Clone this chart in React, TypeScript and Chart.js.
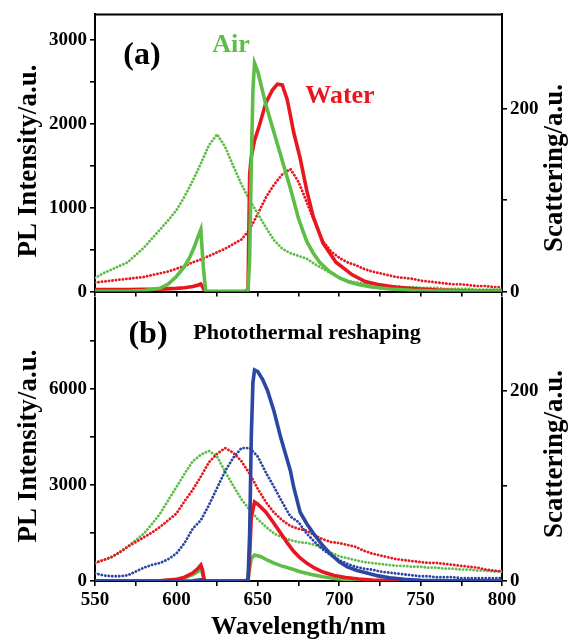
import React, { useEffect, useRef } from "react";
import { Chart, registerables } from "chart.js";
Chart.register(...registerables);

const GREEN = "#5dbd46";
const RED = "#e8161e";
const BLUE = "#2b47a3";
const FONT = "'Liberation Serif', 'Times New Roman', serif";

// ---- Panel (a): PL spectra (left axis) ----
const airPL_a_wl = [550, 570, 580, 590, 595, 600, 605, 608, 611, 613, 615, 616.5, 618, 620, 640, 644, 645, 646, 647, 648, 650, 655, 660, 665, 670, 675, 680, 684, 688, 694, 700, 706, 713, 720, 731, 745, 760, 780, 800];
const airPL_a = [5, 5, 12, 40, 90, 180, 300, 400, 530, 640, 740, 300, 0, 0, 0, 0, 400, 1500, 2400, 2720, 2620, 2220, 1890, 1560, 1230, 870, 600, 460, 350, 240, 165, 115, 80, 55, 30, 15, 8, 3, 0];
const waterPL_a_wl = [550, 570, 590, 600, 605, 610, 613, 615, 616, 617, 618, 620, 642, 644, 645, 646, 648, 651, 655, 659, 662, 665, 668, 670, 672, 676, 680, 684, 690, 698, 708, 716, 725, 735, 745, 760, 780, 800];
const waterPL_a = [25, 25, 30, 38, 45, 60, 75, 90, 60, 20, 5, 0, 0, 20, 1400, 1600, 1800, 1980, 2250, 2400, 2470, 2460, 2290, 2100, 1900, 1590, 1210, 895, 580, 350, 200, 120, 80, 50, 35, 18, 8, 3];

// ---- Scattering wavelengths (both panels) ----
const scatWl = [550, 555, 560, 565, 570, 575, 580, 585, 590, 595, 600, 605, 610, 615, 620, 625, 630, 635, 640, 645, 650, 655, 660, 665, 670, 675, 680, 685, 690, 695, 700, 705, 710, 715, 720, 725, 730, 735, 740, 745, 750, 755, 760, 765, 770, 775, 780, 785, 790, 795, 800];
const airScat_a = [15, 20, 24, 28, 32, 40, 48, 58, 68, 78, 89, 104, 121, 140, 160, 172, 158, 137, 117, 100, 85, 70, 56, 47, 42, 39, 36, 30, 25, 20, 15, 12, 10, 9, 8, 7, 6, 6, 5, 5, 4, 4, 4, 3, 3, 3, 3, 2, 2, 2, 2];
const waterScat_a = [10, 11, 12, 13, 14, 15, 16, 18, 20, 22, 25, 28, 32, 35, 39, 43, 47, 52, 57, 68, 85, 103, 117, 128, 134, 120, 98, 76, 55, 44, 37, 32, 29, 25, 22, 20, 18, 16, 15, 14, 12, 11, 10, 9, 8, 8, 7, 6, 6, 5, 5];

// ---- Panel (b): PL spectra (left axis) ----
const bluePL_b_wl = [550, 600, 610, 615, 617, 620, 640, 644, 645, 646, 647, 648, 650, 653, 656, 660, 664, 668, 670, 672, 676, 680, 684, 690, 694, 700, 705, 711, 717, 724, 731, 740, 750, 770, 800];
const bluePL_b = [0, 0, 10, 40, 5, 0, 0, 20, 1500, 4500, 6200, 6600, 6550, 6300, 5950, 5300, 4500, 3800, 3450, 2950, 2150, 1800, 1500, 1100, 875, 600, 440, 330, 250, 160, 100, 50, 20, 5, 0];
const redPL_b_wl = [550, 590, 600, 605, 610, 613, 615, 616, 617, 618, 643, 644, 645, 646, 648, 650, 655, 660, 664, 668, 672, 676, 680, 685, 690, 697, 704, 712, 720, 735, 800];
const redPL_b = [0, 10, 50, 120, 250, 380, 500, 350, 50, 0, 0, 30, 800, 2000, 2470, 2400, 2150, 1800, 1500, 1200, 930, 720, 560, 400, 280, 170, 110, 60, 30, 10, 0];
const greenPL_b_wl = [550, 590, 600, 605, 610, 613, 615, 616, 617, 618, 643, 644, 645, 646, 648, 652, 656, 660, 664, 668, 672, 676, 683, 690, 697, 704, 712, 720, 735, 800];
const greenPL_b = [0, 5, 40, 100, 200, 290, 380, 250, 40, 0, 0, 20, 400, 700, 810, 760, 650, 560, 480, 420, 360, 290, 200, 130, 80, 50, 25, 12, 5, 0];

// ---- Panel (b): scattering (right axis) ----
const greenScat_b = [19, 22, 25, 30, 36, 43, 50, 60, 71, 85, 99, 113, 126, 133, 137, 131, 115, 100, 86, 75, 65, 57, 50, 46, 43, 41, 40, 38, 35, 30, 26, 24, 22, 20, 19, 18, 17, 16, 16, 15, 15, 14, 14, 13, 13, 12, 12, 11, 11, 10, 10];
const redScat_b = [19, 22, 25, 30, 36, 41, 46, 51, 57, 64, 71, 84, 96, 110, 125, 134, 140, 135, 126, 113, 97, 83, 72, 64, 58, 55, 53, 48, 44, 41, 40, 38, 36, 32, 29, 27, 25, 23, 22, 21, 20, 19, 19, 18, 17, 16, 15, 14, 12, 11, 10];
const blueScat_b = [8, 6, 5, 5, 6, 10, 14, 17, 19, 23, 29, 40, 55, 64, 80, 98, 116, 130, 140, 140, 131, 114, 99, 83, 68, 62, 50, 41, 33, 27, 22, 18, 15, 13, 12, 10, 9, 8, 7, 6, 5, 5, 4, 4, 4, 3, 3, 3, 3, 3, 3];

// ---- Axis ticks ----
const xMin = 550, xMax = 800, xStep = 25, xLabelStep = 50;
const yA = { max: 3300, ticks: [0, 500, 1000, 1500, 2000, 2500, 3000], label: 1000 };
const yAR = { max: 303, ticks: [0, 100, 200], label: 200 };
const yB = { max: 8850, ticks: [0, 1500, 3000, 4500, 6000, 7500], label: 3000 };
const yBR = { max: 298, ticks: [0, 100, 200], label: 200 };

const pts = (xs: number[], ys: number[]) => xs.map((x, i) => ({ x, y: ys[i] }));

const lineDs = (data: any, color: string) => ({
  data, borderColor: color, backgroundColor: color, borderWidth: 3.6,
  pointRadius: 0, tension: 0, yAxisID: "yL", fill: false,
});
const dotDs = (data: any, color: string) => ({
  data, borderColor: color, backgroundColor: color, borderWidth: 2.8,
  borderDash: [0.1, 3.4], borderCapStyle: "round", pointRadius: 0,
  tension: 0, yAxisID: "yR", fill: false,
});

const tickFont = { family: FONT, size: 19, weight: "bold" as const };

function yScale(cfg: { max: number; ticks: number[]; label: number }, pos: "left" | "right", width: number) {
  return {
    type: "linear", position: pos, min: 0, max: cfg.max,
    afterFit: (s: any) => { s.width = width; },
    afterBuildTicks: (s: any) => { s.ticks = cfg.ticks.map((v) => ({ value: v })); },
    ticks: {
      autoSkip: false, color: "#000", font: tickFont, padding: 3,
      callback: (v: any) => (v % cfg.label === 0 ? String(v) : ""),
    },
    grid: { drawOnChartArea: false, tickLength: 5, lineWidth: 1.6, tickColor: "#000" },
    border: { display: true, color: "#000", width: 2 },
    title: { display: false },
  };
}

function xScale(showLabels: boolean, height: number) {
  return {
    type: "linear", position: "bottom", min: xMin, max: xMax,
    afterFit: (s: any) => { s.height = height; },
    ticks: {
      stepSize: xStep, autoSkip: false, maxRotation: 0, color: "#000", font: tickFont, padding: 3,
      callback: (v: any) => (showLabels && v % xLabelStep === 0 ? String(v) : ""),
    },
    grid: { drawOnChartArea: false, tickLength: 5, lineWidth: 1.6, tickColor: "#000" },
    border: { display: true, color: "#000", width: 2 },
    title: showLabels
      ? { display: true, text: "Wavelength/nm", color: "#000", font: { family: FONT, size: 26, weight: "bold", lineHeight: 1 }, padding: { top: 0, bottom: 1 } }
      : { display: false },
  };
}

type Txt = { text: string; x: number; y: number; size: number; color: string; rot?: number };
const textPlugin = (texts: Txt[], topBorder: boolean) => ({
  id: "texts",
  afterDraw(chart: any) {
    const ctx = chart.ctx;
    const a = chart.chartArea;
    ctx.save();
    if (topBorder) {
      ctx.strokeStyle = "#000";
      ctx.lineWidth = 2;
      ctx.beginPath();
      ctx.moveTo(a.left - 1, a.top);
      ctx.lineTo(a.right + 1, a.top);
      ctx.stroke();
    }
    ctx.textAlign = "center";
    ctx.textBaseline = "middle";
    for (const t of texts) {
      ctx.save();
      ctx.fillStyle = t.color;
      ctx.font = `bold ${t.size}px ${FONT}`;
      ctx.translate(t.x, t.y);
      if (t.rot) ctx.rotate(t.rot);
      ctx.fillText(t.text, 0, 0);
      ctx.restore();
    }
    ctx.restore();
  },
});

const UP = -Math.PI / 2;

export default function App() {
  const refA = useRef<HTMLCanvasElement>(null);
  const refB = useRef<HTMLCanvasElement>(null);

  useEffect(() => {
    const chartA = new Chart(refA.current as HTMLCanvasElement, {
      type: "line",
      data: {
        datasets: [
          lineDs(pts(airPL_a_wl, airPL_a), GREEN),
          lineDs(pts(waterPL_a_wl, waterPL_a), RED),
          dotDs(pts(scatWl, airScat_a), GREEN),
          dotDs(pts(scatWl, waterScat_a), RED),
        ] as any,
      },
      options: {
        animation: false, responsive: false, maintainAspectRatio: false,
        layout: { padding: { top: 12, left: 0, right: 0, bottom: 0 } },
        plugins: { legend: { display: false }, tooltip: { enabled: false } },
        scales: {
          x: xScale(false, 9),
          yL: yScale(yA, "left", 95),
          yR: yScale(yAR, "right", 66),
        } as any,
      },
      plugins: [textPlugin([
        { text: "(a)", x: 142, y: 56, size: 32, color: "#000" },
        { text: "Air", x: 231, y: 45, size: 26, color: GREEN },
        { text: "Water", x: 340, y: 96, size: 26, color: RED },
        { text: "PL Intensity/a.u.", x: 29, y: 161, size: 27, color: "#000", rot: UP },
        { text: "Scattering/a.u.", x: 555, y: 168, size: 27, color: "#000", rot: UP },
      ], true)],
    });

    const topOff = 278;
    const chartB = new Chart(refB.current as HTMLCanvasElement, {
      type: "line",
      data: {
        datasets: [
          lineDs(pts(bluePL_b_wl, bluePL_b), BLUE),
          lineDs(pts(redPL_b_wl, redPL_b), RED),
          lineDs(pts(greenPL_b_wl, greenPL_b), GREEN),
          dotDs(pts(scatWl, blueScat_b), BLUE),
          dotDs(pts(scatWl, redScat_b), RED),
          dotDs(pts(scatWl, greenScat_b), GREEN),
        ] as any,
      },
      options: {
        animation: false, responsive: false, maintainAspectRatio: false,
        layout: { padding: { top: 298 - topOff, left: 0, right: 0, bottom: 0 } },
        plugins: { legend: { display: false }, tooltip: { enabled: false } },
        scales: {
          x: xScale(true, 641 - 581),
          yL: yScale(yB, "left", 95),
          yR: yScale(yBR, "right", 66),
        } as any,
      },
      plugins: [textPlugin([
        { text: "(b)", x: 148, y: 335 - topOff, size: 32, color: "#000" },
        { text: "Photothermal reshaping", x: 307, y: 333 - topOff, size: 22, color: "#000" },
        { text: "PL Intensity/a.u.", x: 29, y: 446 - topOff, size: 27, color: "#000", rot: UP },
        { text: "Scattering/a.u.", x: 555, y: 454 - topOff, size: 27, color: "#000", rot: UP },
      ], false)],
    });

    return () => { chartA.destroy(); chartB.destroy(); };
  }, []);

  return (
    <div style={{ position: "absolute", left: 0, top: 0, width: 568, height: 641, background: "#fff" }}>
      <canvas ref={refA} width={568} height={306} style={{ position: "absolute", left: 0, top: 0 }} />
      <canvas ref={refB} width={568} height={641 - 278} style={{ position: "absolute", left: 0, top: 278 }} />
    </div>
  );
}
